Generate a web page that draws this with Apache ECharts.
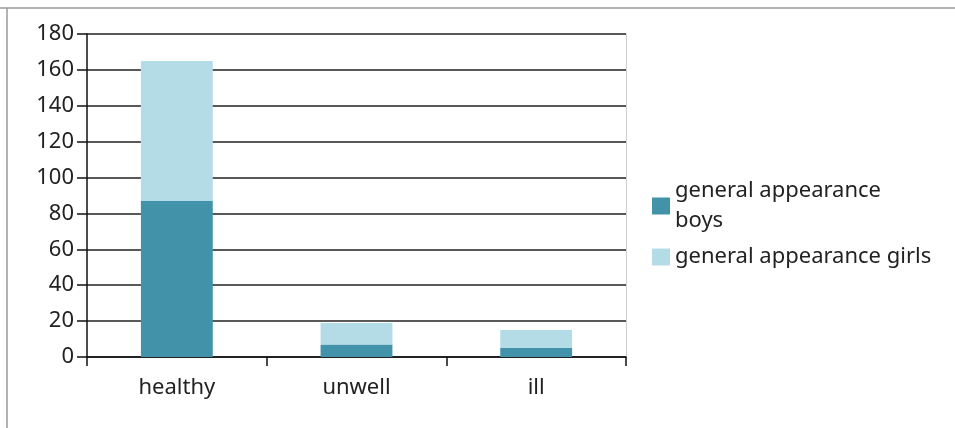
<!DOCTYPE html>
<html>
<head>
    <meta charset="utf-8">
    <title>general appearance</title>
    <script src="https://cdn.jsdelivr.net/npm/echarts@6.0.0/dist/echarts.min.js"></script>
    <style>
        body { margin: 0; background: #fff; }
        #chart { width: 955px; height: 428px; }
    </style>
</head>
<body>
<div id="chart"></div>
<script>
    // data
    var categories = ['healthy', 'unwell', 'ill'];
    var boys = [87, 7, 5];
    var girls = [78, 12, 10];
    var seriesNames = ['general appearance boys', 'general appearance girls'];
    var yTicks = [0, 180, 20]; // min, max, interval

    var font = 'Noto Sans';
    var chart = echarts.init(document.getElementById('chart'));

    var option = {
        animation: false,
        textStyle: { fontFamily: font },
        grid: { left: 87, right: 329, top: 34, bottom: 71, containLabel: false },
        legend: {
            orient: 'vertical',
            left: 652,
            top: 176,
            padding: 0,
            itemWidth: 18,
            itemHeight: 17,
            itemGap: 6,
            icon: 'rect',
            textStyle: { fontFamily: font, fontSize: 22, color: '#222', lineHeight: 30 },
            formatter: function (name) {
                // the first entry wraps onto two lines in the original
                return name === seriesNames[0] ? 'general appearance\nboys' : name;
            },
            data: seriesNames
        },
        xAxis: {
            type: 'category',
            data: categories,
            axisLine: { lineStyle: { color: '#111', width: 1.5 } },
            axisTick: { show: true, length: 9, lineStyle: { color: '#111', width: 1.5 } },
            axisLabel: { fontFamily: font, fontSize: 22, color: '#222', margin: 20 }
        },
        yAxis: [{
            type: 'value',
            min: yTicks[0],
            max: yTicks[1],
            interval: yTicks[2],
            axisLine: { show: true, lineStyle: { color: '#111', width: 1.5 } },
            axisTick: { show: true, length: 10, lineStyle: { color: '#111', width: 1.5 } },
            axisLabel: { fontFamily: font, fontSize: 22, color: '#222', margin: 13 },
            splitLine: { lineStyle: { color: '#222', width: 1.5 } }
        }, {
            type: 'value',
            position: 'right',
            min: yTicks[0],
            max: yTicks[1],
            interval: yTicks[2],
            axisLine: { show: true, lineStyle: { color: '#cfcfcf', width: 1 } },
            axisTick: { show: false },
            axisLabel: { show: false },
            splitLine: { show: false }
        }],
        graphic: [
            { type: 'line', shape: { x1: 0, y1: 8, x2: 955, y2: 8 }, style: { stroke: '#9a9a9a', lineWidth: 1.5 } },
            { type: 'line', shape: { x1: 7, y1: 8, x2: 7, y2: 428 }, style: { stroke: '#9a9a9a', lineWidth: 1.5 } }
        ],
        series: [{
            name: seriesNames[0],
            type: 'bar',
            stack: 'total',
            barWidth: '40%',
            itemStyle: { color: '#4292a9' },
            data: boys
        }, {
            name: seriesNames[1],
            type: 'bar',
            stack: 'total',
            barWidth: '40%',
            itemStyle: { color: '#b4dce6' },
            data: girls
        }]
    };

    chart.setOption(option);
</script>
</body>
</html>
